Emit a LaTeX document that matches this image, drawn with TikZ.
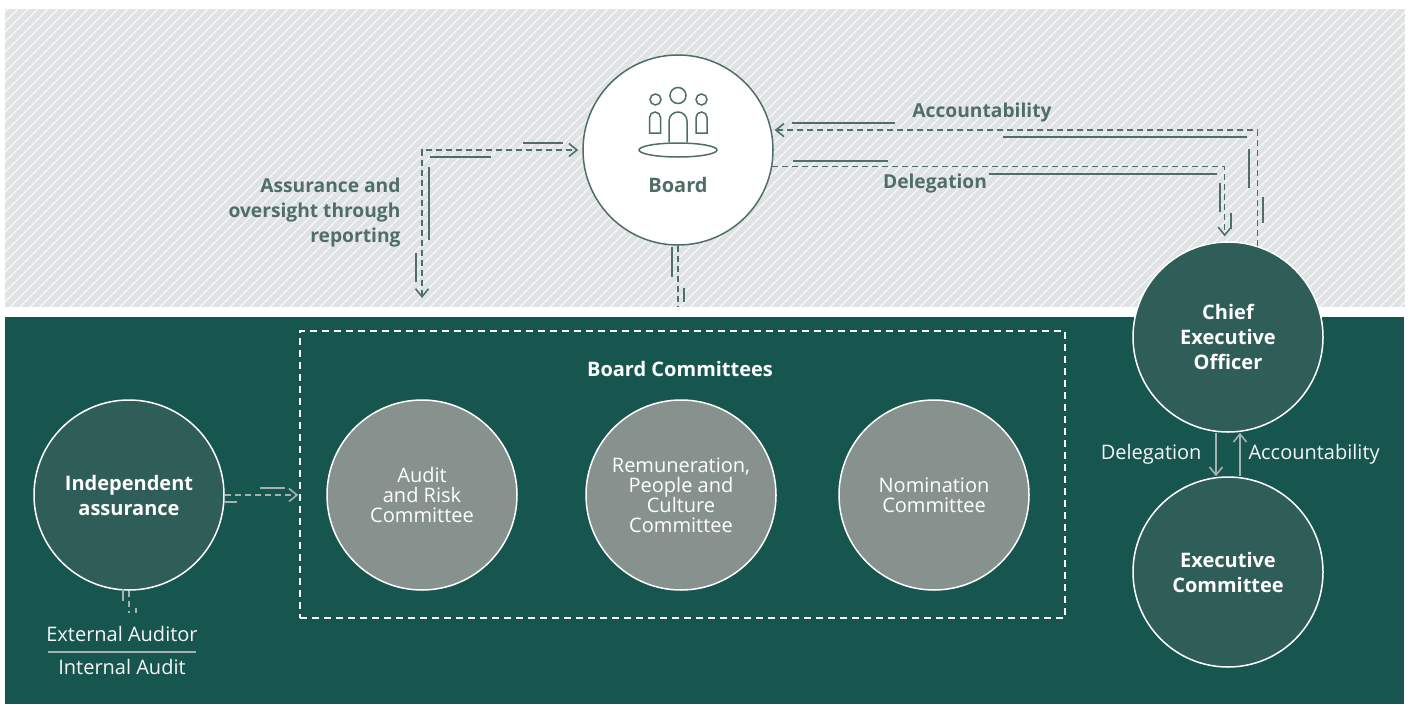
\documentclass[tikz,border=0pt]{standalone}
\usepackage{fontspec}
\setmainfont{Open Sans}
\usetikzlibrary{arrows.meta}
\usetikzlibrary{positioning}
\definecolor{bandgray}{HTML}{E0E3E3}
\definecolor{deepgreen}{HTML}{17554F}
\definecolor{discgreen}{HTML}{2F5D57}
\definecolor{comgray}{HTML}{87928F}
\definecolor{ink}{HTML}{4F6E68}
\definecolor{soft}{HTML}{A6B2AF}
\tikzset{>={Straight Barb[length=8pt,width=13pt]},
  bigdisc/.style={circle,draw=white,line width=1.5pt,fill=discgreen,
    minimum size=190pt,inner sep=0pt,align=center,text=white,
    font=\fontsize{20}{25}\selectfont\bfseries},
  committee/.style={bigdisc,fill=comgray,
    font=\fontsize{20}{20}\selectfont},
  groupbox/.style={draw=white,line width=1.5pt,dash pattern=on 7pt off 5pt,
    minimum width=765pt,minimum height=287pt},
  inklabel/.style={text=ink,font=\fontsize{19.2}{25}\selectfont\bfseries},
  whitelabel/.style={text=white,font=\fontsize{20}{25}\selectfont\bfseries},
  plainlabel/.style={text=white!94!gray,font=\fontsize{20}{25}\selectfont},
  flow/.style={ink,line width=1.6pt,dash pattern=on 6pt off 4pt},
  softflow/.style={soft,line width=1.6pt,dash pattern=on 6pt off 4pt},
  softarrow/.style={soft,line width=1.6pt},
  trail/.style={ink,line width=2pt},
  softtrail/.style={soft,line width=2pt}}

\begin{document}
\begin{tikzpicture}[x=1pt,y=-1pt]
  \useasboundingbox (0,0) rectangle (1412,704);

  % striped band
  \fill [bandgray] (5,9) rectangle (1405,307);
  \begin{scope}
    \clip (5,9) rectangle (1405,307);
    \foreach \s in {-300,-290,...,1410}
      \draw [white,line width=0.9pt] (\s,307) -- ++(298,-298);
  \end{scope}
  \fill [deepgreen] (5,317) rectangle (1404,704);



  \node [bigdisc,fill=white,draw=ink] (board) at (678,150) {};
  \node [inklabel,font=\fontsize{20}{25}\selectfont\bfseries] (boardlbl) at (678,185) {Board};

  % icon
  \begin{scope}[ink,line width=1.5pt]
    \draw (655.5,99.5) circle (5.5);
    \draw (678,95.5) circle (8);
    \draw (701.5,99.5) circle (5.5);
    \draw (649.5,133) -- (649.5,117.5) arc(180:360:5.5) -- (660.5,133) -- cycle;
    \draw (669,142) -- (669,121) arc(180:360:9) -- (687,142);
    \draw (696,133) -- (696,117.5) arc(180:360:5.5) -- (707,133) -- cycle;
    \draw (678,150) ellipse (39 and 7);
  \end{scope}

  \node [inklabel,align=right,anchor=east] (reporting) at (404,213)
    {Assurance and\\oversight through\\reporting};
  \node [inklabel] (acclbl) at (982,113) {Accountability};
  \node [inklabel] (dellbl) at (935,184) {Delegation};


  \node [bigdisc] (ceo) at (1228,337) {Chief\\Executive\\Officer};
  \node [bigdisc] (exec) at (1228,572) {Executive\\Committee};
  \node [bigdisc] (indep) at (129,495) {Independent\\assurance};

  \node [groupbox] (committees) at (682.5,474.5) {};
  \node [whitelabel] (grouplbl) at (680,369) {Board Committees};
  \node [committee] (audit) at (422,495) {Audit\\and Risk\\Committee};
  \node [committee] (remco) at (681,495)
    {Remuneration,\\People and\\Culture\\Committee};
  \node [committee] (nomco) at (934,495) {Nomination\\Committee};

  \node [plainlabel] (extaud) at (122,634) {External Auditor};
  \node [plainlabel] (intaud) at (122,667) {Internal Audit};
  \draw [softarrow] (48,652) -- (196,652);

  \node [plainlabel,anchor=east] (downlbl) at (1205,454) {Delegation};
  \node [plainlabel,anchor=west] (uplbl) at (1245,454) {Accountability};




  \coordinate (reportend) at (422,298);
  \coordinate (boardfoot) at (678,307);
  \coordinate (indepfoot) at (129,613);

  \draw [flow,<->,shorten >=4pt] (reportend) |- (board.west);
  \draw [flow,->,shorten >=3pt] (ceo.72) |- (board.12);
  \draw [flow,->,shorten >=5pt] (board.-10) -| (ceo.92);
  \draw [flow] (board.south) -- (boardfoot);

  \draw [softflow,->,shorten >=1pt] (indep.east) -- (indep.east -| committees.west);
  \draw [softflow] (indep.south) -- (indepfoot);

  \draw [softarrow,->] ([xshift=-12pt]ceo.south) -- ([xshift=-12pt]exec.north);
  \draw [softarrow,<-] ([xshift=12pt]ceo.south) -- ([xshift=12pt]exec.north);



  % trails
  \draw [trail] (523,143) -- (563,143);
  \draw [trail] (430,157) -- (491,157);
  \draw [trail] (429,167) -- (429,240);
  \draw [trail] (416,253) -- (416,282);
  \draw [trail] (672,247) -- (672,277);
  \draw [trail] (684,288) -- (684,302);
  \draw [trail] (792,123) -- (895,123);
  \draw [trail] (1003,137) -- (1247,137);
  \draw [trail] (793,161) -- (888,161);
  \draw [trail] (989,174) -- (1217,174);
  \draw [trail] (1249,149) -- (1249,188);
  \draw [trail] (1263,197) -- (1263,223);
  \draw [trail] (1220,183) -- (1220,212);
  \draw [trail] (1231,213) -- (1231,229);

  \draw [softtrail] (260,488) -- (285,488);
  \draw [softtrail] (224,502) -- (237,502);
  \draw [softtrail] (123,589) -- (123,601);
  \draw [softtrail] (136,608) -- (136,613);

\end{tikzpicture}
\end{document}
